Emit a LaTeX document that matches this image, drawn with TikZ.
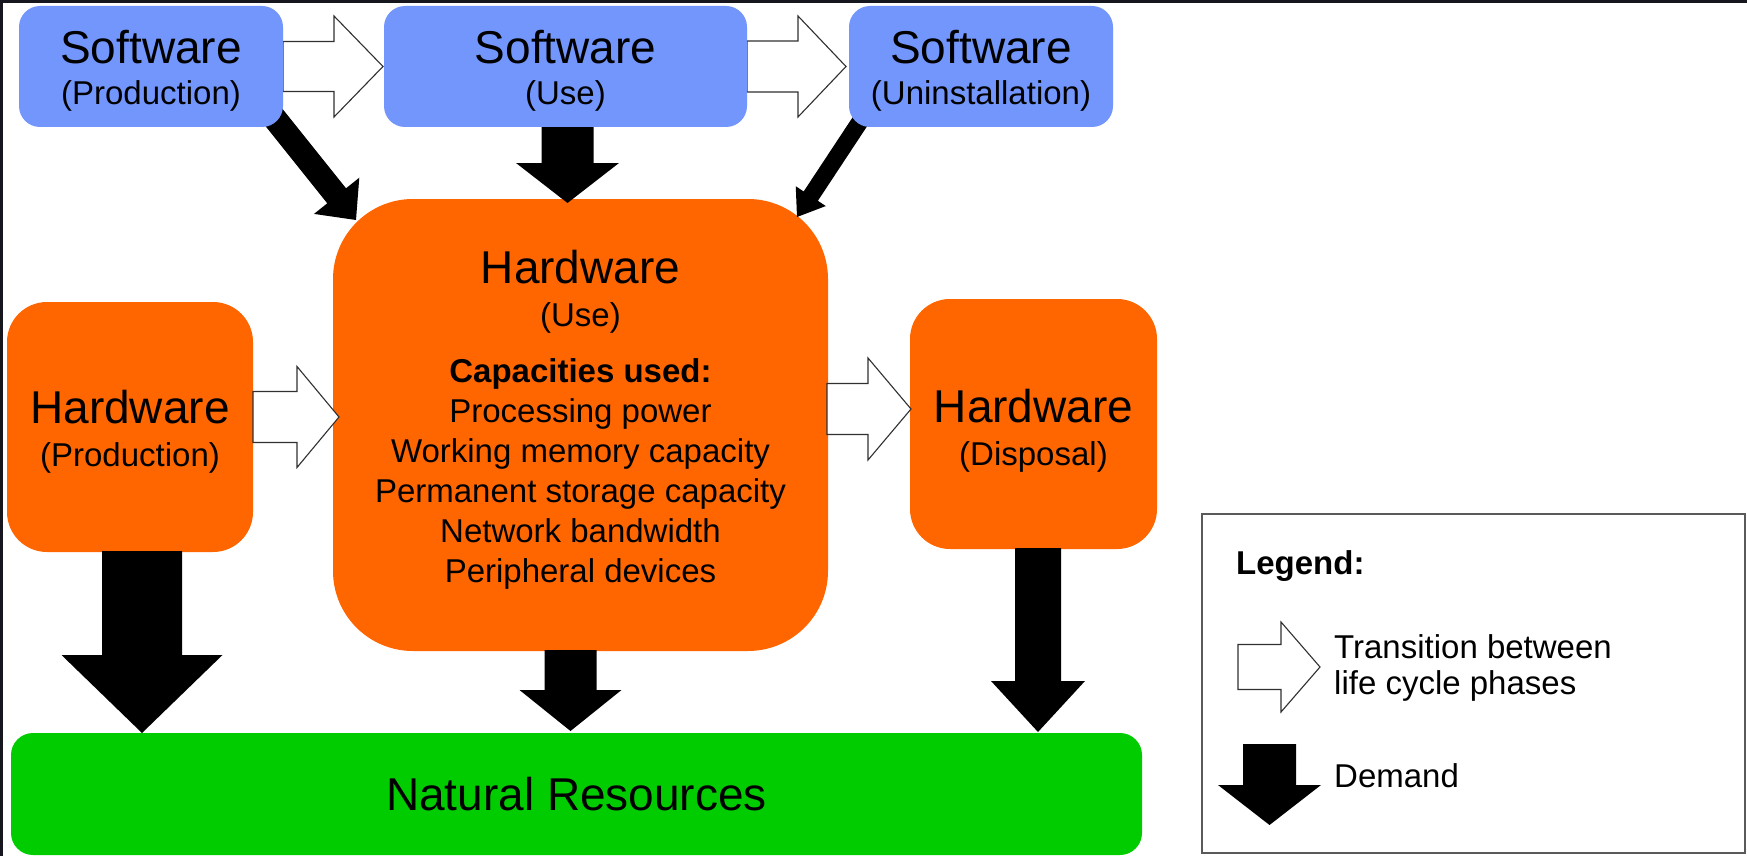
\documentclass[tikz,border=0pt]{standalone}
\usepackage{fontspec}
\setmainfont{Liberation Sans}
\usetikzlibrary{calc}

\definecolor{swblue}{RGB}{114,150,252}
\definecolor{hworange}{RGB}{255,102,0}
\definecolor{natgreen}{RGB}{0,204,0}
\definecolor{edgegray}{RGB}{48,48,48}
\definecolor{legendgray}{RGB}{90,90,90}
\definecolor{framedark}{RGB}{22,22,30}

\pgfdeclarelayer{back}
\pgfdeclarelayer{front}
\pgfsetlayers{back,main,front}

% block arrow from #2 to #3: shaft half width #4, head half width #5, head length #6
\newcommand\blockarr[6][]{%
  \path ($(#3)!#6!(#2)$) coordinate (hb);
  \draw[#1] ($(#2)!#4!90:(#3)$) -- ($(hb)!#4!90:(#3)$) -- ($(hb)!#5!90:(#3)$) -- (#3)
    -- ($(hb)!#5!-90:(#3)$) -- ($(hb)!#4!-90:(#3)$) -- ($(#2)!#4!-90:(#3)$) -- cycle;}

\begin{document}
\begin{tikzpicture}[x=1pt,y=-1pt,
  swbox/.style={fill=swblue, rounded corners=21pt, inner sep=0pt, outer sep=0pt},
  hwbox/.style={fill=hworange, inner sep=0pt, outer sep=0pt},
  title/.style={anchor=base, font=\fontsize{46}{55}\selectfont, inner sep=0pt},
  sub/.style={anchor=base, font=\fontsize{33}{40}\selectfont, inner sep=0pt},
  subbold/.style={sub, font=\fontsize{33}{40}\selectfont\bfseries},
  hollow/.style={fill=white, draw=edgegray, line width=1.1pt, line join=miter},
  demand/.style={fill=black, draw=none},
]
\useasboundingbox (0,0) rectangle (1747,856);

% ---------- hardware, resources and legend frame ----------
\begin{pgfonlayer}{back}
  \fill[white] (0,0) rectangle (1747,856);
  \node[hwbox, rounded corners=40pt, minimum width=246pt, minimum height=250pt] (hwp) at (130,427) {};
  \node[hwbox, rounded corners=80pt, minimum width=495pt, minimum height=452pt] (hwu) at (580.5,425) {};
  \node[hwbox, rounded corners=40pt, minimum width=247pt, minimum height=250pt] (hwd) at (1033.5,424) {};
  \node[fill=natgreen, rounded corners=22pt, minimum width=1131pt, minimum height=122pt,
        inner sep=0pt, outer sep=0pt] (nat) at (576.5,794) {};
  \node[draw=legendgray, line width=1.8pt, minimum width=543pt, minimum height=339pt,
        inner sep=0pt, outer sep=0pt] (legend) at (1473.5,683.5) {};
\end{pgfonlayer}

% ---------- software boxes and all labels ----------
\begin{pgfonlayer}{front}
  \node[swbox, minimum width=264pt, minimum height=121pt] (swp) at (151,66.5) {};
  \node[swbox, minimum width=363pt, minimum height=121pt] (swu) at (565.5,66.5) {};
  \node[swbox, minimum width=264pt, minimum height=121pt] (swn) at (981,66.5) {};

  \node[title] (swp-t) at (151,64) {Software};
  \node[sub]   (swp-s) at (151,105) {(Production)};
  \node[title] (swu-t) at (565.5,64) {Software};
  \node[sub]   (swu-s) at (565.5,105) {(Use)};
  \node[title] (swn-t) at (981,64) {Software};
  \node[sub]   (swn-s) at (981,105) {(Uninstallation)};

  \node[title] (hwp-t) at (130,423) {Hardware};
  \node[sub]   (hwp-s) at (130,466) {(Production)};
  \node[title] (hwd-t) at (1033.5,422) {Hardware};
  \node[sub]   (hwd-s) at (1033.5,465) {(Disposal)};

  \node[title]   (hwu-t) at (580.5,283) {Hardware};
  \node[sub]     (hwu-s) at (580.5,326) {(Use)};
  \node[subbold] (cap0)  at (580.5,382) {Capacities used:};
  \foreach \txt [count=\i] in {{Processing power},{Working memory capacity},
      {Permanent storage capacity},{Network bandwidth},{Peripheral devices}}
    \node[sub] (cap\i) at (580.5,{382+40*\i}) {\txt};

  \node[title] (nat-t) at (576.5,810) {Natural Resources};

  \node[subbold, anchor=base west] (lg-t)  at (1236,574) {Legend:};
  \node[sub, anchor=base west]     (lg-a1) at (1334,658) {Transition between};
  \node[sub, anchor=base west]     (lg-a2) at (1334,694) {life cycle phases};
  \node[sub, anchor=base west]     (lg-d)  at (1334,787) {Demand};

  % dark frame strips along the top and left edges
  \fill[framedark] (0,0) rectangle (1747,3);
  \fill[framedark] (0,0) rectangle (3,856);
\end{pgfonlayer}

% ---------- transitions between life cycle phases ----------
\coordinate (t1s) at (swp.east);
\coordinate (t1e) at ($(swu.west)+(-1,0)$);
\coordinate (t4s) at (swu.east);
\coordinate (t4e) at ($(swn.west)+(-3,0)$);
\coordinate (t2s) at ($(hwp.east)+(0,-10)$);
\coordinate (t2e) at ($(hwu.west)+(6,-8)$);
\coordinate (t3s) at ($(hwu.east)+(-1,-16)$);
\coordinate (t3e) at ($(hwd.west)+(1,-15)$);
\blockarr[hollow]{t1s}{t1e}{25pt}{50.5pt}{49pt}
\blockarr[hollow]{t4s}{t4e}{25.5pt}{50.5pt}{48pt}
\blockarr[hollow]{t2s}{t2e}{25.5pt}{50.5pt}{42pt}
\blockarr[hollow]{t3s}{t3e}{25.5pt}{51pt}{43pt}

% ---------- demand ----------
\coordinate (d1s) at ($(swp.south east)+(-15,-17)$);
\coordinate (d1e) at ($(hwu.north west)+(23,21)$);
\coordinate (d2s) at ($(swu.south)+(2,-2)$);
\coordinate (d2e) at ($(hwu.north)+(-13,4)$);
\coordinate (d3s) at ($(swn.south west)+(14,-10)$);
\coordinate (d3e) at ($(hwu.north east)+(-31,18)$);
\coordinate (d4s) at ($(hwp.south)+(12,-1)$);
\coordinate (d4e) at (nat.north -| d4s);
\coordinate (d5s) at ($(hwu.south)+(-10,-1)$);
\coordinate (d5e) at ($(nat.north -| d5s)+(0,-2)$);
\coordinate (d6s) at ($(hwd.south)+(4.5,-1)$);
\coordinate (d6e) at ($(nat.north -| d6s)+(0,-1)$);
\blockarr[demand]{d1s}{d1e}{12pt}{29pt}{31pt}
\blockarr[demand]{d2s}{d2e}{26pt}{51.5pt}{40pt}
\blockarr[demand]{d3s}{d3e}{8.5pt}{18pt}{25pt}
\blockarr[demand]{d4s}{d4e}{40pt}{80.5pt}{78pt}
\blockarr[demand]{d5s}{d5e}{26pt}{51pt}{41pt}
\blockarr[demand]{d6s}{d6e}{23pt}{47pt}{51pt}

% ---------- legend symbols ----------
\coordinate (lg1s) at ($(legend.west)+(36,-16.5)$);
\coordinate (lg1e) at ($(legend.west)+(118,-16.5)$);
\coordinate (lg2s) at ($(legend.west)+(67.5,60.5)$);
\coordinate (lg2e) at ($(legend.west)+(67.5,141.5)$);
\blockarr[hollow]{lg1s}{lg1e}{22.5pt}{45pt}{39pt}
\blockarr[demand]{lg2s}{lg2e}{26.5pt}{51.5pt}{40pt}
\end{tikzpicture}
\end{document}
